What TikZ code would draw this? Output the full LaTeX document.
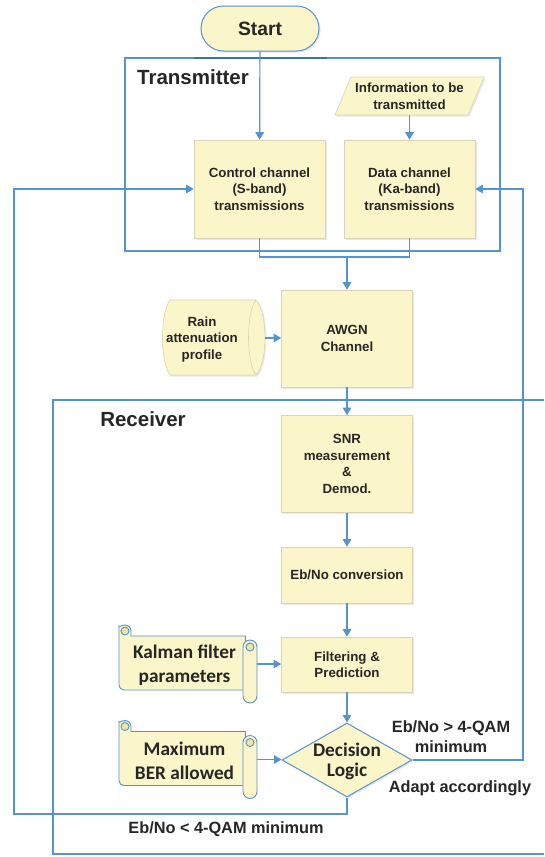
\documentclass[tikz,border=0pt]{standalone}
\usepackage{fontspec}
\setmainfont{Liberation Sans}
\newfontfamily\scrollfont{Carlito}
\usetikzlibrary{shapes.geometric,shadows,arrows.meta,calc}

\definecolor{flowblue}{HTML}{5492D0}
\definecolor{darkframe}{HTML}{3A74AE}
\definecolor{boxfill}{HTML}{FBF6C9}
\definecolor{curlfill}{HTML}{EFE6A6}
\definecolor{boxedge}{HTML}{D8D4B4}
\definecolor{ink}{HTML}{262626}

% Scroll shape (curled banner) centred on a given coordinate
\newcommand\scrollat[1]{%
  \begin{scope}[shift={(#1)}]
    \filldraw[scrolledge] (-68.5,-33) arc[start angle=180,end angle=0,radius=6pt]
      -- (-56.5,-28) -- (58,-28) -- (58,26) [rounded corners=5pt] -- (-68.5,26) -- cycle;
    \filldraw[scrolledge, fill=curlfill] (-62.5,-33) circle[radius=4pt];
    \filldraw[scrolledge, rounded corners=7pt] (55.5,-24) rectangle (69.5,39);
    \filldraw[scrolledge, fill=curlfill] (62.5,-17) circle[radius=4pt];
  \end{scope}}

\begin{document}
\begin{tikzpicture}[x=1pt,y=-1pt,
  flow/.style={draw=flowblue, line width=1.2pt},
  arr/.style={flow, -{Triangle[length=7.5pt,width=8.5pt]}},
  frame/.style={draw=flowblue, line width=1.1pt},
  shade/.style={drop shadow={opacity=0.18, shadow xshift=1.5pt, shadow yshift=-1.5pt}},
  box/.style={draw=boxedge, line width=0.6pt, fill=boxfill, text=ink,
    font=\bfseries\fontsize{13.3}{16.5}\selectfont, align=center,
    inner sep=0pt, minimum width=131pt, shade},
  plain/.style={text=ink, font=\bfseries\fontsize{13.3}{16.5}\selectfont, align=center, inner sep=0pt},
  holder/.style={inner sep=0pt},
  scrolledge/.style={draw=flowblue, line width=0.9pt, fill=boxfill},
  scrolltext/.style={text=ink, font=\scrollfont\bfseries\fontsize{19.3}{23.5}\selectfont, align=center, inner sep=0pt},
  title/.style={text=ink, font=\bfseries\fontsize{20.5}{24}\selectfont, inner sep=0pt},
  note/.style={text=ink, font=\bfseries\fontsize{16.3}{20}\selectfont, align=center, inner sep=0pt},
]
\useasboundingbox[fill=white] (0,0) rectangle (544,857);

% ---------- containers ----------
\node[frame, minimum width=375pt, minimum height=193pt, inner sep=0pt] (tx) at (312.5,154.5) {};
\draw[darkframe, line width=2pt] (194,58) -- (327,58);
\draw[frame] (544,400) -- (53,400) -- (53,854) -- (544,854);
\node[title] (txlabel) at (193,77) {Transmitter};
\node[title] (rxlabel) at (143,419) {Receiver};

% ---------- transmitter ----------
\node[draw=flowblue, line width=1pt, fill=boxfill, rounded corners=22.5pt,
  minimum width=118pt, minimum height=45pt, inner sep=0pt, text=ink,
  font=\bfseries\fontsize{19.3}{22}\selectfont, shade] (start) at (260,28.5) {Start};

\filldraw[draw=boxedge, line width=0.6pt, fill=boxfill, shade]
  (351,77) -- (484,77) -- (468,115) -- (335,115) -- cycle;
\node[plain, minimum height=38pt] (info) at (409.5,96) {Information to be\\transmitted};

\node[box, minimum height=98pt] (ctrl) at (259.5,189) {Control channel\\(S-band)\\transmissions};
\node[box, minimum height=98pt] (data) at (409.5,189) {Data channel\\(Ka-band)\\transmissions};

% ---------- channel ----------
\filldraw[draw=boxedge, line width=0.6pt, fill=boxfill, shade]
  (170,300) -- (256,300) .. controls (268,313) and (268,362) .. (256,375)
  -- (170,375) .. controls (160,362) and (160,313) .. (170,300) -- cycle;
\draw[boxedge, line width=0.6pt] (256,300) .. controls (246,313) and (246,362) .. (256,375);
\node[holder, minimum width=102pt, minimum height=75pt] (rain) at (214,338) {};
\node[plain] (raintext) at (202,339.5) {Rain\\attenuation\\profile};

\node[box, minimum height=97pt] (awgn) at (347,338.5) {AWGN\\Channel};

% ---------- receiver ----------
\node[box, minimum height=97pt] (snr) at (347,464) {SNR\\measurement\\\&\\Demod.};
\node[box, minimum height=56pt] (ebno) at (347,575) {Eb/No conversion};
\node[box, minimum height=55pt] (filt) at (347,664.5) {Filtering \&\\Prediction};

\node[diamond, draw=flowblue, line width=1pt, fill=boxfill, aspect=1.757,
  minimum width=130pt, minimum height=74pt, inner sep=0pt, shade] (dec) at (347,760) {};
\node[scrolltext, font=\scrollfont\bfseries\fontsize{19.3}{20}\selectfont] (dectext) at (347,761) {Decision\\Logic};

\node[holder, minimum width=139pt, minimum height=78pt] (kal) at (187.5,664) {};
\scrollat{kal.center}
\node[scrolltext] (kaltext) at (184.5,665) {Kalman filter\\parameters};

\node[holder, minimum width=139pt, minimum height=75pt] (ber) at (187.5,759.5) {};
\scrollat{ber.center}
\node[scrolltext] (bertext) at (184.5,761) {Maximum\\BER allowed};

% ---------- branch labels ----------
\node[note] (gtlabel) at (451,737) {Eb/No > 4-QAM\\minimum};
\node[note] (adapt) at (460,788) {Adapt accordingly};
\node[note] (ltlabel) at (226,829) {Eb/No < 4-QAM minimum};

% ---------- connectors ----------
\coordinate (merge) at (347,257);
\coordinate (rloop) at (523,189);
\coordinate (lloop) at (14,814);

\draw[arr] (start) -- (ctrl);
\draw[arr] (info) -- (data);
\draw[flow] (ctrl.south) |- (merge);
\draw[flow] (data.south) |- (merge);
\draw[arr] (merge) -- (awgn.north);
\draw[arr] (rain.east) -- (awgn.west |- rain.east);
\draw[arr] (awgn) -- (snr);
\draw[arr] (snr) -- (ebno);
\draw[arr] (ebno) -- (filt);
\draw[arr] (kal.east) -- (filt.west |- kal.east);
\draw[arr] (filt) -- (dec);
\draw[arr] (ber.east) -- (dec.west |- ber.east);
\draw[arr] (dec.east) -| (rloop) -- (data.east);
\draw[arr] (dec.south) |- (lloop) |- (ctrl.west);
\end{tikzpicture}
\end{document}
